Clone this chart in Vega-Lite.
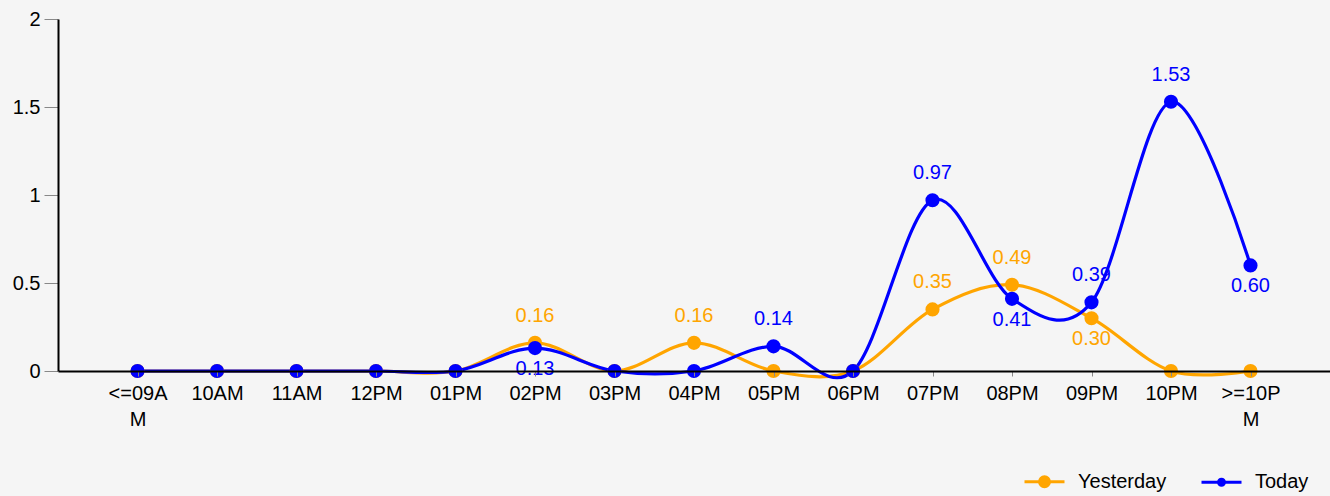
{
  "$schema": "https://vega.github.io/schema/vega-lite/v6.json",
  "width": 1272,
  "height": 352,
  "autosize": "none",
  "padding": {"left": 58, "top": 19, "right": 0, "bottom": 125},
  "background": "#f5f5f5",
  "config": {"view": {"stroke": null}, "font": "Liberation Sans"},
  "data": {"values": [
    {"hour": "<=09AM", "series": "Yesterday", "value": 0},
    {"hour": "10AM", "series": "Yesterday", "value": 0},
    {"hour": "11AM", "series": "Yesterday", "value": 0},
    {"hour": "12PM", "series": "Yesterday", "value": 0},
    {"hour": "01PM", "series": "Yesterday", "value": 0},
    {"hour": "02PM", "series": "Yesterday", "value": 0.16},
    {"hour": "03PM", "series": "Yesterday", "value": 0},
    {"hour": "04PM", "series": "Yesterday", "value": 0.16},
    {"hour": "05PM", "series": "Yesterday", "value": 0},
    {"hour": "06PM", "series": "Yesterday", "value": 0},
    {"hour": "07PM", "series": "Yesterday", "value": 0.35},
    {"hour": "08PM", "series": "Yesterday", "value": 0.49},
    {"hour": "09PM", "series": "Yesterday", "value": 0.30},
    {"hour": "10PM", "series": "Yesterday", "value": 0},
    {"hour": ">=10PM", "series": "Yesterday", "value": 0},
    {"hour": "<=09AM", "series": "Today", "value": 0},
    {"hour": "10AM", "series": "Today", "value": 0},
    {"hour": "11AM", "series": "Today", "value": 0},
    {"hour": "12PM", "series": "Today", "value": 0},
    {"hour": "01PM", "series": "Today", "value": 0},
    {"hour": "02PM", "series": "Today", "value": 0.13},
    {"hour": "03PM", "series": "Today", "value": 0},
    {"hour": "04PM", "series": "Today", "value": 0},
    {"hour": "05PM", "series": "Today", "value": 0.14},
    {"hour": "06PM", "series": "Today", "value": 0},
    {"hour": "07PM", "series": "Today", "value": 0.97},
    {"hour": "08PM", "series": "Today", "value": 0.41},
    {"hour": "09PM", "series": "Today", "value": 0.39},
    {"hour": "10PM", "series": "Today", "value": 1.53},
    {"hour": ">=10PM", "series": "Today", "value": 0.60}
  ]},
  "encoding": {
    "x": {
      "field": "hour", "type": "ordinal", "sort": null,
      "scale": {"type": "point", "padding": 1},
      "axis": {
        "title": null, "labelAngle": 0, "labelFontSize": 20, "labelColor": "#000000",
        "labelPadding": 7, "labelLineHeight": 26,
        "labelExpr": "length(datum.label) > 5 ? [substring(datum.label, 0, 5), substring(datum.label, 5)] : datum.label",
        "domainColor": "#000000", "domainWidth": 2, "tickColor": "#888888", "tickSize": 5, "zindex": 1
      }
    },
    "y": {
      "field": "value", "type": "quantitative",
      "scale": {"domain": [0, 2], "nice": false},
      "axis": {
        "title": null, "values": [0, 0.5, 1, 1.5, 2], "format": "~g", "grid": false,
        "labelFontSize": 20, "labelColor": "#000000", "labelPadding": 4,
        "domainColor": "#000000", "domainWidth": 2, "tickColor": "#888888", "tickSize": 14, "zindex": 1
      }
    },
    "color": {
      "field": "series", "type": "nominal",
      "scale": {"domain": ["Yesterday", "Today"], "range": ["#FFA500", "#0000FF"]},
      "legend": {
        "title": null, "orient": "none", "direction": "horizontal",
        "legendX": 965, "legendY": 441,
        "labelFontSize": 20, "labelColor": "#000000", "labelOffset": 12,
        "columnPadding": 28, "symbolSize": 1600, "symbolStrokeWidth": 3,
        "encode": {
          "symbols": {"update": {
            "shape": {"signal": "datum.value === 'Today' ? 'M-1,0L1,0M-0.15,0A0.15,0.15,0,1,1,0.15,0A0.15,0.15,0,1,1,-0.15,0Z' : 'M-1,0L1,0M-0.25,0A0.25,0.25,0,1,1,0.25,0A0.25,0.25,0,1,1,-0.25,0Z'"},
            "fill": {"scale": "color", "field": "value"},
            "stroke": {"scale": "color", "field": "value"},
            "strokeWidth": {"value": 3}
          }}
        }
      }
    }
  },
  "layer": [
    {"mark": {"type": "line", "interpolate": "cardinal", "strokeWidth": 3.2}},
    {"mark": {"type": "point", "filled": true, "opacity": 1, "size": 200}},
    {
      "transform": [{"filter": "datum.value > 0 && !((datum.series == 'Today' && (datum.hour == '02PM' || datum.hour == '08PM' || datum.hour == '>=10PM')) || (datum.series == 'Yesterday' && datum.hour == '09PM'))"}],
      "mark": {"type": "text", "fontSize": 20, "dy": -27, "baseline": "middle"},
      "encoding": {"text": {"field": "value", "type": "quantitative", "format": ".2f"}}
    },
    {
      "transform": [{"filter": "datum.value > 0 && ((datum.series == 'Today' && (datum.hour == '02PM' || datum.hour == '08PM' || datum.hour == '>=10PM')) || (datum.series == 'Yesterday' && datum.hour == '09PM'))"}],
      "mark": {"type": "text", "fontSize": 20, "dy": 21, "baseline": "middle"},
      "encoding": {"text": {"field": "value", "type": "quantitative", "format": ".2f"}}
    }
  ]
}
